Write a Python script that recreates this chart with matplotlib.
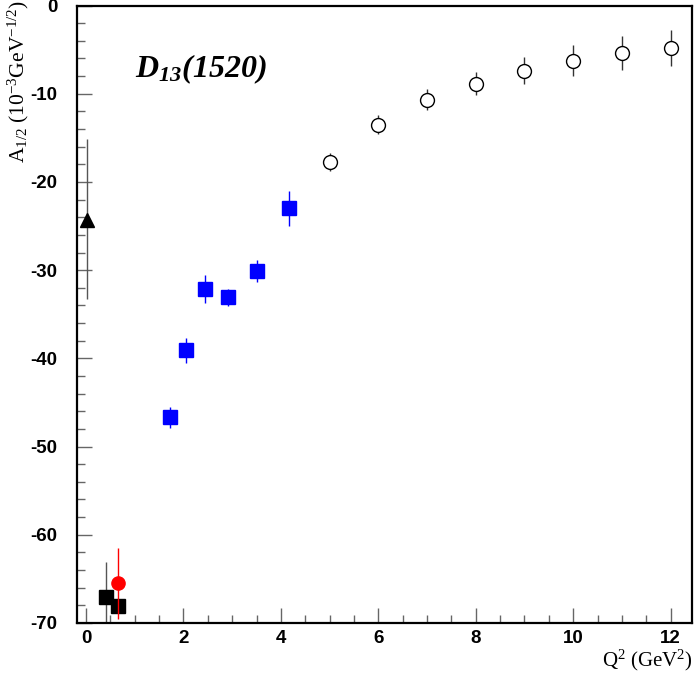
import matplotlib
matplotlib.use("Agg")
import matplotlib.pyplot as plt
from matplotlib.ticker import MultipleLocator

plt.rcParams['axes.unicode_minus'] = False
plt.rcParams['mathtext.fontset'] = 'custom'
plt.rcParams['mathtext.rm'] = 'Liberation Serif'
plt.rcParams['mathtext.it'] = 'Liberation Serif:italic'
plt.rcParams['mathtext.bf'] = 'Liberation Serif:italic:bold'

# Data
tri_x = [0.02]
tri_y = [-24.3]
tri_lo = [9.0]
tri_hi = [9.2]

blk_x = [0.41, 0.66]
blk_y = [-67.1, -68.1]
blk_err = [4.0, 0.0]

red_x = [0.66]
red_y = [-65.5]
red_err = [4.0]

blue_x = [1.73, 2.06, 2.45, 2.92, 3.50, 4.17]
blue_y = [-46.7, -39.1, -32.1, -33.1, -30.1, -23.0]
blue_err = [1.2, 1.4, 1.6, 1.0, 1.2, 2.0]

open_x = [5, 6, 7, 8, 9, 10, 11, 12]
open_y = [-17.75, -13.5, -10.7, -8.85, -7.38, -6.28, -5.41, -4.8]
open_err = [1.0, 1.1, 1.2, 1.35, 1.55, 1.75, 1.9, 2.0]

fig = plt.figure(figsize=(6.96, 6.74), dpi=100)
ax = fig.add_axes([0.1106, 0.0757, 0.8837, 0.9161])

ax.errorbar(tri_x, tri_y, yerr=[tri_lo, tri_hi], fmt='^', color='black',
            ecolor='#555555', elinewidth=1.0, ms=9.5, capsize=0)
ax.errorbar(blk_x, blk_y, yerr=blk_err, fmt='s', color='black',
            ecolor='#555555', elinewidth=1.0, ms=9.5, capsize=0)
ax.errorbar(red_x, red_y, yerr=red_err, fmt='o', color='red',
            ecolor='red', elinewidth=1.0, ms=9.5, capsize=0, zorder=3)
ax.errorbar(blue_x, blue_y, yerr=blue_err, fmt='s', color='blue',
            ecolor='blue', elinewidth=1.0, ms=10, capsize=0)
ax.errorbar(open_x, open_y, yerr=open_err, fmt='o', mfc='white', mec='black',
            mew=1.0, ecolor='#333333', elinewidth=1.0, ms=10, capsize=0)

ax.set_xlim(-0.185, 12.44)
ax.set_ylim(-70, 0)

ax.xaxis.set_major_locator(MultipleLocator(2))
ax.xaxis.set_minor_locator(MultipleLocator(0.5))
ax.yaxis.set_major_locator(MultipleLocator(10))
ax.yaxis.set_minor_locator(MultipleLocator(2))
ax.tick_params(which='both', direction='in', top=False, right=False, color='#666666', width=1.0)
ax.tick_params(which='major', length=11)
ax.tick_params(which='minor', length=6)
ax.tick_params(axis='y', pad=14)
ax.tick_params(axis='x', pad=5)
for lab in ax.get_xticklabels() + ax.get_yticklabels():
    lab.set_fontfamily('Liberation Sans')
    lab.set_fontweight('bold')
    lab.set_fontsize(13.5)
for sp in ax.spines.values():
    sp.set_linewidth(1.6)

fig.text(0.9943, 1 - 666 / 674, r'$\mathrm{Q^2\ (GeV^2)}$', ha='right', va='baseline', fontsize=15)
fig.text(0.008, 1.0, r'$\mathrm{A_{1/2}\ (10^{-3}GeV^{-1/2})}$', rotation=90,
         ha='left', va='top', fontsize=15.5)
ax.text(0.094, 0.884, r'$\mathbf{D_{13}(1520)}$', transform=ax.transAxes,
        fontsize=23, ha='left', va='baseline')

fig.savefig('out.png', dpi=100)
